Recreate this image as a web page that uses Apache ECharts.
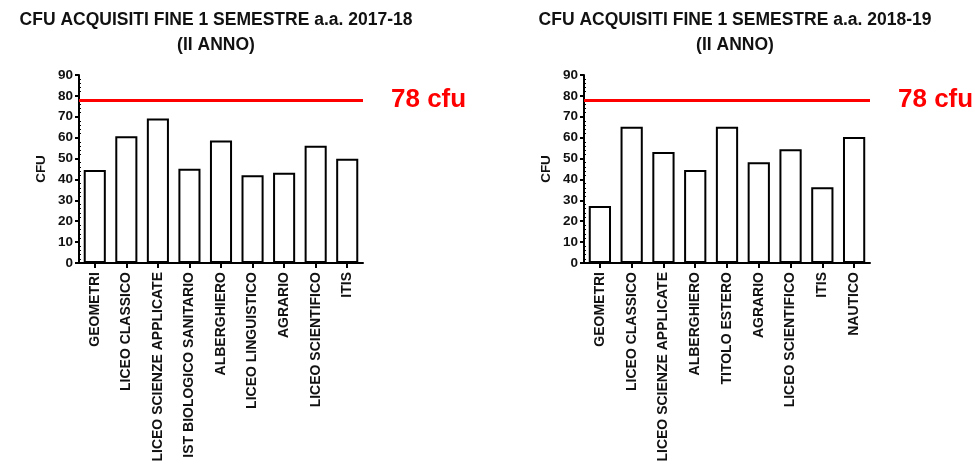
<!DOCTYPE html>
<html style="height: 100%">
<head>
    <meta charset="UTF-8">
    <script src="https://cdn.jsdelivr.net/npm/echarts@6/dist/echarts.min.js"></script>
</head>
<body style="margin: 0; background-color: #ffffff">
    <div id="paint" style="width: 975px; height: 465px;"></div>
<script>
    // dati
    var soglia = 78;
    var yTicks = [0, 10, 20, 30, 40, 50, 60, 70, 80, 90];

    var cat2017 = ['GEOMETRI', 'LICEO CLASSICO', 'LICEO SCIENZE APPLICATE', 'IST BIOLOGICO SANITARIO',
        'ALBERGHIERO', 'LICEO LINGUISTICO', 'AGRARIO', 'LICEO SCIENTIFICO', 'ITIS'];
    var cfu2017 = [44.5, 60.7, 69.2, 45.1, 58.7, 42, 43.2, 56.1, 49.9];

    var cat2018 = ['GEOMETRI', 'LICEO CLASSICO', 'LICEO SCIENZE APPLICATE', 'ALBERGHIERO',
        'TITOLO ESTERO', 'AGRARIO', 'LICEO SCIENTIFICO', 'ITIS', 'NAUTICO'];
    var cfu2018 = [27.3, 65.2, 53.1, 44.5, 65.2, 48.2, 54.4, 36.3, 60.3];

    var font = 'Liberation Sans, Arial, sans-serif';

    function xAxis(idx, data) {
        return {
            type: 'category',
            gridIndex: idx,
            data: data,
            axisLine: {lineStyle: {color: '#000', width: 2}},
            axisTick: {show: true, alignWithLabel: true, length: 5, lineStyle: {color: '#000', width: 2}},
            axisLabel: {rotate: 90, fontSize: 14, fontWeight: 'bold', color: '#111', fontFamily: font, margin: 9, interval: 0},
            splitLine: {show: false}
        };
    }

    function yAxis(idx) {
        return {
            type: 'value',
            gridIndex: idx,
            min: yTicks[0],
            max: yTicks[yTicks.length - 1],
            interval: 10,
            name: 'CFU',
            nameLocation: 'middle',
            nameGap: 31,
            nameTextStyle: {fontSize: 13.5, fontWeight: 'bold', color: '#111', fontFamily: font},
            axisLine: {show: true, lineStyle: {color: '#000', width: 2}},
            axisTick: {show: true, length: 4, lineStyle: {color: '#000', width: 2}},
            minorTick: {show: true, splitNumber: 5, length: -2, lineStyle: {color: '#000', width: 1}},
            axisLabel: {fontSize: 13.5, fontWeight: 'bold', color: '#111', fontFamily: font, margin: 6},
            splitLine: {show: false}
        };
    }

    function barSeries(idx, data) {
        return {
            type: 'bar',
            xAxisIndex: idx,
            yAxisIndex: idx,
            data: data,
            barWidth: '70%',
            itemStyle: {color: '#fff', borderColor: '#000', borderWidth: 2},
            markLine: {
                silent: true,
                symbol: 'none',
                lineStyle: {color: '#ff0000', width: 3, type: 'solid'},
                label: {
                    show: true,
                    position: 'end',
                    distance: 28,
                    formatter: soglia + ' cfu',
                    color: '#ff0000',
                    fontSize: 26,
                    fontWeight: 'bold',
                    fontFamily: font
                },
                data: [{yAxis: soglia}]
            }
        };
    }

    var titleStyle = {fontSize: 17.5, fontWeight: 'bold', color: '#111', fontFamily: font, lineHeight: 25};

    echarts.init(document.getElementById('paint')).setOption({
        animation: false,
        backgroundColor: '#ffffff',
        title: [
            {
                text: 'CFU ACQUISITI FINE 1 SEMESTRE a.a. 2017-18\n(II ANNO)',
                left: 211, top: 3, textAlign: 'center',
                textStyle: titleStyle
            },
            {
                text: 'CFU ACQUISITI FINE 1 SEMESTRE a.a. 2018-19\n(II ANNO)',
                left: 730, top: 3, textAlign: 'center',
                textStyle: titleStyle
            }
        ],
        grid: [
            {left: 79, top: 75, width: 284, height: 188},
            {left: 584, top: 75, width: 286, height: 188}
        ],
        xAxis: [xAxis(0, cat2017), xAxis(1, cat2018)],
        yAxis: [yAxis(0), yAxis(1)],
        series: [barSeries(0, cfu2017), barSeries(1, cfu2018)]
    });
</script>
</body>
</html>
